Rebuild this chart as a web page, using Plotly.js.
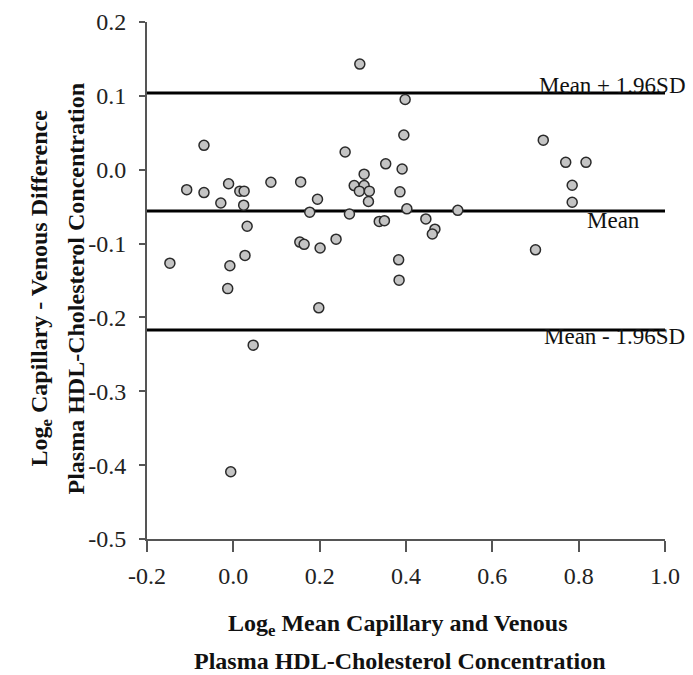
<!DOCTYPE html>
<html>
<head>
<meta charset="utf-8">
<script src="https://cdn.plot.ly/plotly-3.0.1.min.js"></script>
<style>html,body{margin:0;padding:0;background:#fff;}#chart{width:693px;height:675px;}</style>
</head>
<body>
<div id="chart"></div>
<script>
// Log_e mean of capillary and venous (x) vs log_e capillary - venous difference (y)
const meanLog = [0.293, 0.398, -0.068, 0.259, 0.395, 0.353, 0.391, 0.303, -0.108, -0.068,
  -0.011, 0.015, 0.025, -0.029, 0.024, 0.087, 0.156, 0.195, 0.177, 0.280,
  0.303, 0.292, 0.315, 0.313, 0.386, 0.269, 0.402, 0.338, 0.350, 0.032,
  0.154, 0.164, 0.201, 0.238, -0.147, 0.027, 0.383, 0.718, 0.770, 0.817,
  0.785, 0.785, 0.520, 0.446, 0.467, 0.461, 0.700, -0.008, -0.013, 0.384,
  0.198, 0.046, -0.006];
const diffLog = [0.143, 0.095, 0.033, 0.024, 0.047, 0.008, 0.001, -0.006, -0.027, -0.031,
  -0.019, -0.029, -0.029, -0.045, -0.048, -0.017, -0.0165, -0.040, -0.0575, -0.0215,
  -0.0215, -0.029, -0.029, -0.043, -0.030, -0.060, -0.053, -0.070, -0.069, -0.0765,
  -0.098, -0.101, -0.106, -0.094, -0.1265, -0.116, -0.122, 0.040, 0.010, 0.010,
  -0.021, -0.044, -0.055, -0.0666, -0.0805, -0.087, -0.1085, -0.130, -0.161, -0.1495,
  -0.187, -0.2375, -0.409];

// Reference lines (mean and limits of agreement)
const refNames = ["Mean + 1.96SD", "Mean", "Mean - 1.96SD"];
const refValues = [0.104, -0.056, -0.217];

// Tick labels
const xTickVals = [-0.2, 0.0, 0.2, 0.4, 0.6, 0.8, 1.0];
const xTickText = ["-0.2", "0.0", "0.2", "0.4", "0.6", "0.8", "1.0"];
const yTickVals = [0.2, 0.1, 0.0, -0.1, -0.2, -0.3, -0.4, -0.5];
const yTickText = ["0.2", "0.1", "0.0", "-0.1", "-0.2", "-0.3", "-0.4", "-0.5"];

const xTitleLines = ["Log<sub>e</sub> Mean Capillary and Venous", "Plasma HDL-Cholesterol Concentration"];
const yTitleLines = ["Log<sub>e</sub> Capillary - Venous Difference", "Plasma HDL-Cholesterol Concentration"];

const serif = "Liberation Serif, Times New Roman, serif";

const trace = {
  type: "scatter", mode: "markers",
  x: meanLog, y: diffLog,
  marker: {size: 10, color: "#c4c4c4", line: {color: "#2a2a2a", width: 1.5}},
  hoverinfo: "x+y", cliponaxis: false
};

const shapes = refValues.map(v => ({
  type: "line", xref: "paper", x0: 0, x1: 1, yref: "y", y0: v, y1: v,
  line: {color: "#000", width: 3}, layer: "below"
}));

const labelShift = [[23, 7], [-23, -9], [22, -6.5]];
const annotations = refNames.map((t, i) => ({
  text: t, xref: "paper", x: 1, xanchor: "right", yref: "y", y: refValues[i], yanchor: "middle",
  xshift: labelShift[i][0], yshift: labelShift[i][1], showarrow: false,
  font: {family: serif, size: 23, color: "#111"}
}));

const titleFont = {family: serif, size: 24, color: "#111", weight: "bold"};
// x title lines
annotations.push({text: xTitleLines[0], xref: "paper", x: 0.5, xanchor: "center", xshift: -8,
  yref: "paper", y: 0, yanchor: "middle", yshift: -86, showarrow: false, font: titleFont});
annotations.push({text: xTitleLines[1], xref: "paper", x: 0.5, xanchor: "center", xshift: -6,
  yref: "paper", y: 0, yanchor: "middle", yshift: -122, showarrow: false, font: titleFont});
// y title lines
annotations.push({text: yTitleLines[0], xref: "paper", x: 0, xanchor: "center", xshift: -107,
  yref: "paper", y: 0.5, yanchor: "middle", yshift: -8, showarrow: false, textangle: -90, font: titleFont});
annotations.push({text: yTitleLines[1], xref: "paper", x: 0, xanchor: "center", xshift: -72,
  yref: "paper", y: 0.5, yanchor: "middle", yshift: -8, showarrow: false, textangle: -90, font: titleFont});

const layout = {
  width: 693, height: 675,
  margin: {l: 147, r: 28, t: 22, b: 136, pad: 0},
  paper_bgcolor: "#fff", plot_bgcolor: "#fff",
  showlegend: false,
  font: {family: serif, size: 24, color: "#222"},
  xaxis: {
    range: [-0.2, 1.0], tickvals: xTickVals, ticktext: xTickText,
    showline: true, linecolor: "#555", linewidth: 2,
    ticks: "outside", ticklen: 11, tickwidth: 2, tickcolor: "#555",
    showgrid: false, zeroline: false, mirror: false,
    ticklabelstandoff: 3,
    tickfont: {family: serif, size: 24, color: "#222"}
  },
  yaxis: {
    range: [-0.5, 0.2], tickvals: yTickVals, ticktext: yTickText,
    showline: true, linecolor: "#555", linewidth: 2,
    ticks: "outside", ticklen: 6, tickwidth: 2, tickcolor: "#555",
    showgrid: false, zeroline: false, mirror: false,
    ticklabelstandoff: 8,
    tickfont: {family: serif, size: 24, color: "#222"}
  },
  shapes: shapes,
  annotations: annotations
};

Plotly.newPlot("chart", [trace], layout, {displayModeBar: false, staticPlot: true});
</script>
</body>
</html>
